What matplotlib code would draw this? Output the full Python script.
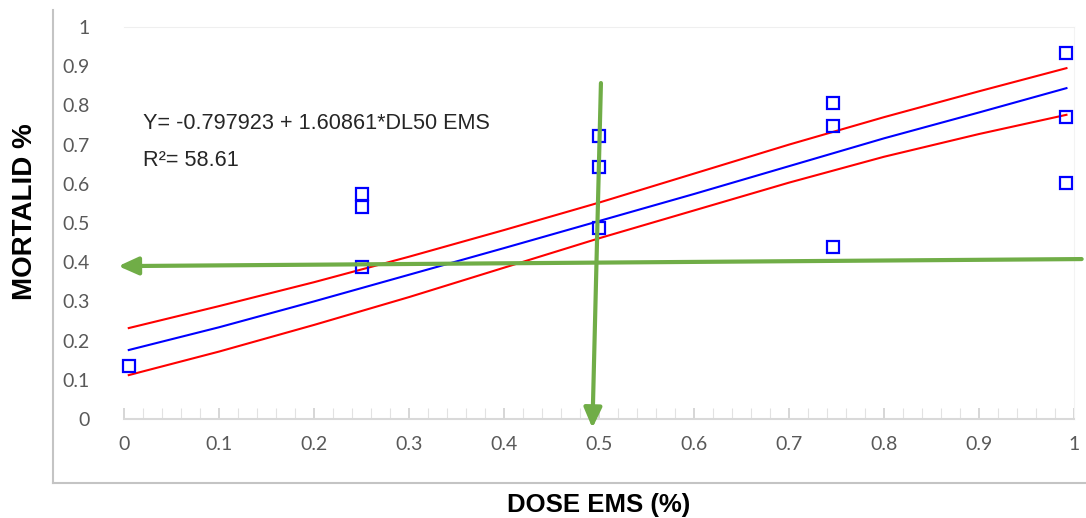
import matplotlib.pyplot as plt
from matplotlib.lines import Line2D

# observed points (dose EMS, mortality)
dosis = [0.005, 0.25, 0.25, 0.25, 0.5, 0.5, 0.5, 0.746, 0.746, 0.746, 0.991, 0.991, 0.991]
mortalidad = [0.135, 0.574, 0.541, 0.388, 0.722, 0.644, 0.488, 0.805, 0.747, 0.440, 0.933, 0.770, 0.601]

# fitted line and confidence band
x_recta = [0.005, 0.1, 0.2, 0.3, 0.4, 0.5, 0.6, 0.7, 0.8, 0.9, 0.992]
y_ajuste = [0.176, 0.234, 0.300, 0.368, 0.436, 0.505, 0.574, 0.645, 0.716, 0.782, 0.844]
y_superior = [0.232, 0.288, 0.349, 0.414, 0.482, 0.552, 0.626, 0.700, 0.770, 0.836, 0.895]
y_inferior = [0.112, 0.172, 0.240, 0.311, 0.386, 0.461, 0.532, 0.603, 0.669, 0.727, 0.776]

# DL50 reading arrows
flecha_h = [(1.008, 0.408), (-0.006, 0.390)]
flecha_v = [(0.502, 0.857), (0.493, -0.023)]

ticks_x = [0, 0.1, 0.2, 0.3, 0.4, 0.5, 0.6, 0.7, 0.8, 0.9, 1]
ticks_y = [0, 0.1, 0.2, 0.3, 0.4, 0.5, 0.6, 0.7, 0.8, 0.9, 1]
etiquetas = ['0', '0.1', '0.2', '0.3', '0.4', '0.5', '0.6', '0.7', '0.8', '0.9', '1']

fig = plt.figure(figsize=(10.86, 5.18), dpi=100)
ax = fig.add_axes([0.1142, 0.1911, 0.8748, 0.7568])

ax.plot(x_recta, y_superior, color='#ff0000', lw=1.5)
ax.plot(x_recta, y_inferior, color='#ff0000', lw=1.5)
ax.plot(x_recta, y_ajuste, color='#0000ff', lw=1.5)
ax.plot(dosis, mortalidad, 's', ms=9, mfc='none', mec='#0000ff', mew=1.6, clip_on=False)

verde = '#70ad47'
for (x0, y0), (x1, y1) in [flecha_h, flecha_v]:
    ax.annotate('', xy=(x1, y1), xytext=(x0, y0), annotation_clip=False,
                arrowprops=dict(arrowstyle='-|>,head_length=0.6,head_width=0.27',
                                mutation_scale=20, color=verde, lw=3,
                                shrinkA=0, shrinkB=0))

ax.set_xlim(0, 1)
ax.set_ylim(0, 1)
ax.set_xticks(ticks_x)
ax.set_xticklabels(etiquetas)
ax.set_yticks(ticks_y)
ax.set_yticklabels(etiquetas)
ax.set_xticks([i / 50 for i in range(51)], minor=True)

for lab in ax.get_xticklabels() + ax.get_yticklabels():
    lab.set_fontfamily('Lato')
    lab.set_fontsize(14)
    lab.set_color('#595959')

ax.tick_params(axis='x', which='major', direction='in', length=8, width=1.2, color='#d0d0d0', pad=12)
ax.tick_params(axis='x', which='minor', direction='in', length=8, width=0.8, color='#e2e2e2')
ax.tick_params(axis='y', length=0, pad=25)

ax.spines['left'].set_visible(False)
ax.spines['bottom'].set_color('#d9d9d9')
ax.spines['bottom'].set_linewidth(1.5)
ax.spines['top'].set_color('#efefef')
ax.spines['right'].set_color('#f3f3f3')

ax.set_xlabel('DOSE EMS (%)', fontsize=18.5, fontweight='bold', family='Liberation Sans', labelpad=29)
ax.set_ylabel('MORTALID %', fontsize=20, fontweight='bold', family='Liberation Sans')
ax.yaxis.set_label_coords(-0.091, 0.528)

ax.text(0.02, 0.755, 'Y= -0.797923 + 1.60861*DL50 EMS', transform=ax.transAxes,
        fontsize=15.6, family='Liberation Sans', color='#262626', va='center')
ax.text(0.02, 0.66, 'R²= 58.61', transform=ax.transAxes,
        fontsize=15.6, family='Liberation Sans', color='#262626', va='center')

# outer frame of the original picture
fig.add_artist(Line2D([0.0488, 0.0488], [0.0676, 0.98], color='#c4c4c4', lw=1.5))
fig.add_artist(Line2D([0.0488, 1.0], [0.0676, 0.0676], color='#c4c4c4', lw=1.5))

fig.savefig('out.png', dpi=100)
